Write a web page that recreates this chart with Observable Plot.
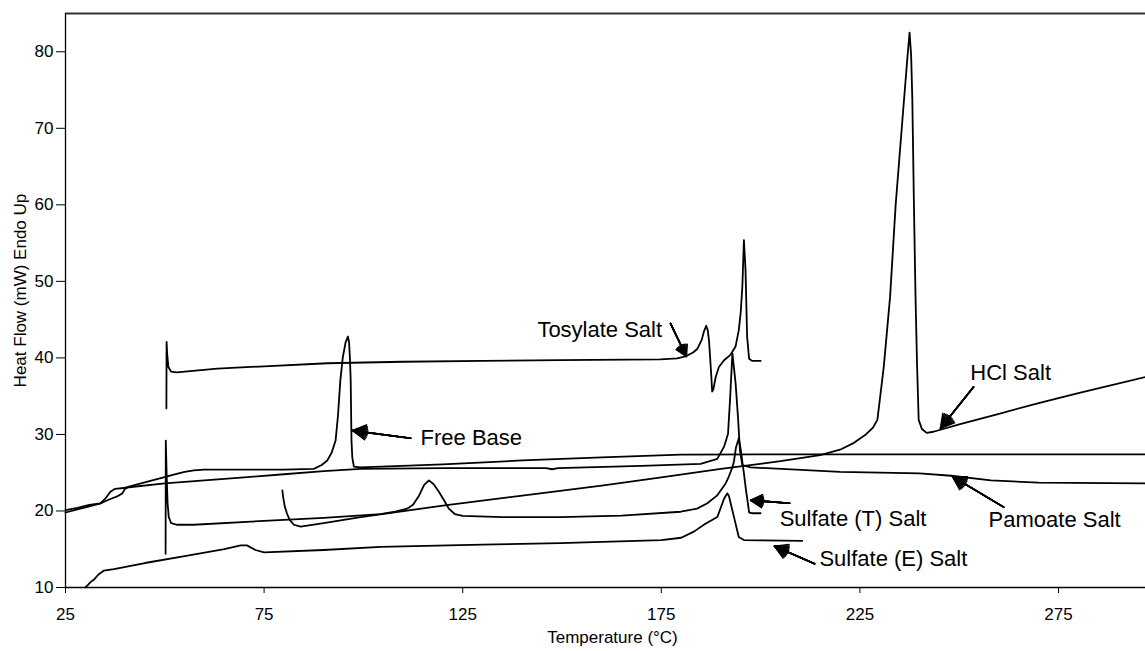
<!DOCTYPE html>
<html><head><meta charset="utf-8">
<script src="https://cdn.jsdelivr.net/npm/d3@7"></script>
<script src="https://cdn.jsdelivr.net/npm/@observablehq/plot@0.6"></script>
<style>body{margin:0;background:#fff;} svg{display:block;}</style>
</head><body><div id="chart"></div>
<script>
// ---- axis ticks ----
const xTicks = [25, 75, 125, 175, 225, 275];
const yTicks = [10, 20, 30, 40, 50, 60, 70, 80];

// ---- series (temperature °C, heat flow mW) ----
const freeBaseT  = [25, 28, 31, 33.8, 35.0, 36.3, 37.5, 39.6, 44, 49.7, 52, 55, 57.3, 59.8, 70, 80, 87.5, 89.5, 90.9, 92.0, 93.0, 93.6, 94.2, 94.8, 95.5, 96.1, 96.4, 96.6, 96.8, 96.9, 97.0, 97.2, 97.6, 99.3, 120, 140, 160, 179.9, 200, 230, 260, 296.9];
const freeBaseHF = [19.8, 20.2, 20.6, 21.0, 21.6, 22.5, 22.9, 23.0, 23.6, 24.4, 24.7, 25.1, 25.3, 25.4, 25.4, 25.4, 25.5, 26.0, 26.6, 27.6, 29.2, 32.5, 37.1, 40.0, 42.0, 42.8, 42.0, 40.0, 37.1, 33.0, 29.2, 27.0, 25.8, 25.7, 26.1, 26.6, 27.0, 27.35, 27.4, 27.4, 27.4, 27.4];

const pamoateT  = [25, 28, 31, 33.8, 36, 38, 39.3, 40, 41, 50, 60, 70, 80, 90, 99.3, 120, 146, 147.5, 149, 170, 184.9, 189.1, 190.8, 191.8, 192.3, 192.9, 193.7, 194.3, 194.8, 195.4, 197.5, 220, 240, 248, 258, 270, 296.9];
const pamoateHF = [20.1, 20.4, 20.8, 21.0, 21.5, 21.9, 22.3, 22.9, 23.1, 23.6, 24.0, 24.4, 24.8, 25.2, 25.5, 25.6, 25.6, 25.45, 25.6, 25.9, 26.15, 26.8, 28.4, 30.1, 34.5, 40.6, 36.7, 32.3, 27.9, 26.0, 25.7, 25.1, 24.9, 24.6, 24.0, 23.7, 23.6];

const tosylateT  = [50.4, 50.45, 50.6, 50.9, 51.6, 53, 63.2, 75, 90.9, 110, 130, 149.6, 174.8, 179, 181.1, 183, 184.1, 185.2, 185.7, 186.3, 186.7, 187.0, 187.3, 187.6, 187.8, 188.1, 188.7, 189.5, 190.8, 192.4, 193.7, 194.5, 195.0, 195.4, 195.8, 196.2, 196.6, 197.1, 197.9, 200];
const tosylateHF = [33.4, 42.1, 40.5, 38.8, 38.2, 38.1, 38.6, 38.9, 39.3, 39.5, 39.6, 39.7, 39.8, 39.95, 40.2, 40.7, 41.2, 42.4, 43.4, 44.2, 43.6, 42.3, 40.0, 37.5, 35.6, 35.9, 37.5, 38.8, 39.7, 40.4, 41.5, 43.6, 46.0, 49.3, 55.4, 51.5, 42.8, 39.9, 39.6, 39.6];

const sulfateTT  = [50.2, 50.25, 50.45, 50.7, 51.0, 51.6, 53, 57.3, 75, 90, 104.3, 108, 111, 112.5, 114, 115.3, 116.5, 117.7, 119, 120.3, 121.5, 123, 125, 135, 149.6, 165, 179.9, 184, 186.6, 189, 191.2, 192.0, 192.9, 193.3, 193.8, 194.5, 195.0, 195.4, 195.8, 196.3, 196.8, 197.1, 198, 200];
const sulfateTHF = [14.4, 29.2, 25.0, 21.0, 19.2, 18.4, 18.2, 18.2, 18.7, 19.1, 19.6, 19.9, 20.3, 20.8, 22.0, 23.4, 24.0, 23.5, 22.5, 21.4, 20.3, 19.6, 19.35, 19.2, 19.2, 19.4, 19.9, 20.3, 21.0, 22.0, 23.6, 24.5, 25.7, 26.5, 28.3, 29.5, 28.0, 26.4, 24.9, 22.8, 21.0, 19.8, 19.7, 19.7];

const sulfateET  = [30.0, 30.6, 31.3, 32.1, 33.3, 34.6, 37.2, 45, 55, 65, 69.1, 70.7, 72.8, 75, 90, 104.3, 130, 149.6, 175, 180, 183.2, 186, 189.1, 190.8, 191.6, 192.0, 193.3, 194.5, 195.8, 200, 210.5];
const sulfateEHF = [10.0, 10.3, 10.7, 11.0, 11.7, 12.2, 12.4, 13.2, 14.1, 15.0, 15.5, 15.5, 14.9, 14.6, 14.9, 15.3, 15.6, 15.8, 16.2, 16.5, 17.3, 18.3, 19.2, 21.6, 22.3, 22.0, 19.2, 16.6, 16.2, 16.15, 16.1];

const hclT  = [79.6, 79.8, 80.2, 80.8, 81.5, 82.5, 84.2, 90, 99.3, 120, 140, 160, 175, 190, 205, 215, 220, 223.5, 226.5, 228.3, 229.4, 231.0, 232.6, 234.0, 236.1, 237.0, 237.5, 237.9, 238.2, 238.6, 239.0, 239.4, 239.8, 240.6, 241.8, 243.5, 250, 260, 270, 280, 296.9];
const hclHF = [22.7, 21.8, 20.6, 19.6, 18.8, 18.2, 17.95, 18.4, 19.2, 20.7, 22.0, 23.3, 24.4, 25.5, 26.5, 27.3, 28.0, 28.9, 30.0, 30.9, 31.9, 38.8, 48.0, 60.0, 73.7, 79.5, 82.5, 79.5, 73.7, 60.0, 48.0, 38.8, 31.9, 30.7, 30.2, 30.35, 31.3, 32.7, 34.1, 35.4, 37.5];

const seriesNames = ["Free Base", "Pamoate Salt", "Tosylate Salt", "Sulfate (T) Salt", "Sulfate (E) Salt", "HCl Salt"];
const seriesT  = [freeBaseT, pamoateT, tosylateT, sulfateTT, sulfateET, hclT];
const seriesHF = [freeBaseHF, pamoateHF, tosylateHF, sulfateTHF, sulfateEHF, hclHF];

// ---- annotations (data units) ----
const labelText = ["Tosylate Salt", "Free Base", "HCl Salt", "Sulfate (T) Salt", "Pamoate Salt", "Sulfate (E) Salt"];
const labelT  = [143.8, 114.4, 252.8, 204.8, 257.4, 214.8];
const labelHF = [43.6, 29.5, 38.0, 18.9, 18.8, 13.7];
const arrowT1  = [177.3, 111.9, 253.6, 207.3, 261.2, 213.6];
const arrowHF1 = [44.5, 29.5, 36.2, 21.0, 20.5, 13.1];
const arrowT2  = [181.3, 97.3, 245.3, 197.5, 248.3, 203.5];
const arrowHF2 = [40.2, 30.5, 30.8, 21.4, 24.5, 15.4];

const xTitle = "Temperature (°C)";
const yTitle = "Heat Flow (mW) Endo Up";

const rows = seriesNames.flatMap((name, k) => seriesT[k].map((t, i) => ({series: name, t, hf: seriesHF[k][i]})));
const labels = labelText.map((text, i) => ({text, t: labelT[i], hf: labelHF[i]}));
const arrows = arrowT1.map((t1, i) => ({t1, v1: arrowHF1[i], t2: arrowT2[i], v2: arrowHF2[i]}));

const headAngles = [60, 48, 36, 24, 12];

const chart = Plot.plot({
  width: 1145, height: 651,
  marginLeft: 65, marginRight: 0, marginTop: 13, marginBottom: 64,
  style: {fontFamily: "'Liberation Sans', Arial, sans-serif", fontSize: "17px", color: "#000", background: "#fff"},
  x: {domain: [25, 296.9]},
  y: {domain: [10, 85]},
  marks: [
    Plot.ruleY([85], {stroke: "#333", strokeWidth: 2}),
    Plot.ruleX([25], {stroke: "#000", strokeWidth: 1.3}),
    Plot.ruleY([10], {stroke: "#000", strokeWidth: 1.3}),
    Plot.axisX({ticks: xTicks, tickSize: 6, tickPadding: 14, label: null, fontSize: 17}),
    Plot.axisY({ticks: yTicks, tickSize: 9, tickPadding: 3, label: null, fontSize: 17}),
    Plot.line(rows, {x: "t", y: "hf", z: "series", stroke: "#000", strokeWidth: 1.8}),
    ...headAngles.map(a => Plot.arrow(arrows, {x1: "t1", y1: "v1", x2: "t2", y2: "v2", stroke: "#000", strokeWidth: 1.6, headLength: 14, headAngle: a})),
    Plot.text(labels, {x: "t", y: "hf", text: "text", textAnchor: "start", fontSize: 22, fill: "#000"}),
    Plot.text([xTitle], {frameAnchor: "bottom", textAnchor: "middle", dy: 55, dx: 7, fontSize: 17}),
    Plot.text([yTitle], {x: () => 13.7, y: () => 48.8, textAnchor: "middle", rotate: -90, fontSize: 17})
  ]
});
document.getElementById("chart").append(chart);
</script></body></html>
